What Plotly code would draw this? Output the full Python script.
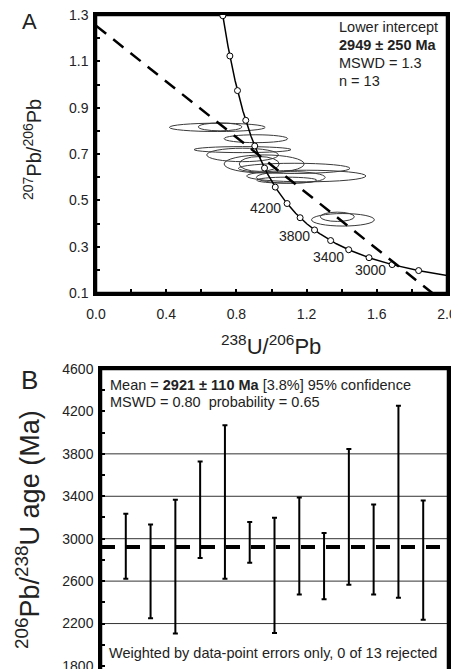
import numpy as np
import plotly.graph_objects as go

W, H = 459, 669
OFF = 8  # page body margin offset in the browser

# ---------------- data ----------------
# Concordia age marks (Ma)
conc_ages = [2800, 3000, 3200, 3400, 3600, 3800, 4000, 4200, 4400, 4600, 4800, 5000, 5200, 5400, 5600]
conc_labels = {4200: "4200", 3800: "3800", 3400: "3400", 3000: "3000"}
conc_age_range = [2600, 5600]
LAMBDA238 = 1.55125e-10 * 1e6
LAMBDA235 = 9.8485e-10 * 1e6
U_RATIO = 137.88

# Axis ticks
a_xticks = [0.0, 0.4, 0.8, 1.2, 1.6, 2.0]
a_xminor = [0.2, 0.6, 1.0, 1.4, 1.8]
a_yticks = [0.1, 0.3, 0.5, 0.7, 0.9, 1.1, 1.3]
b_yticks = [1800, 2200, 2600, 3000, 3400, 3800, 4200, 4600]

# Discordia: lower intercept age, 207/206 at x = 0
lower_intercept_age = 2949
discordia_y0 = 1.254
discordia_xmax = 1.92

# Error ellipses: centre x, centre y, half-width, half-height
ell_cx = [0.691, 0.707, 0.911, 0.835, 0.835, 0.958, 1.129, 0.930, 1.198, 1.110, 1.087, 1.407, 1.375]
ell_cy = [0.815, 0.817, 0.766, 0.719, 0.696, 0.657, 0.638, 0.657, 0.605, 0.599, 0.587, 0.416, 0.429]
ell_a = [0.273, 0.124, 0.181, 0.276, 0.204, 0.228, 0.318, 0.114, 0.340, 0.196, 0.171, 0.179, 0.097]
ell_b = [0.018, 0.017, 0.017, 0.013, 0.029, 0.039, 0.022, 0.032, 0.025, 0.025, 0.013, 0.027, 0.020]

# Panel B: 206Pb/238U ages, 95% error bars
spot = list(range(1, 14))
age_low = [2622, 2251, 2106, 2817, 2622, 2773, 2112, 2474, 2430, 2565, 2474, 2443, 2235]
age_high = [3235, 3135, 3367, 3729, 4069, 3157, 3197, 3389, 3053, 3845, 3323, 4254, 3361]
mean_age = 2921
grid_ages = [2200, 2600, 3000, 3400, 3800]


def conc_x(t):
    return 1.0 / (np.exp(LAMBDA238 * np.asarray(t, float)) - 1.0)


def conc_y(t):
    t = np.asarray(t, float)
    return (np.exp(LAMBDA235 * t) - 1.0) / (np.exp(LAMBDA238 * t) - 1.0) / U_RATIO


FONT = "Liberation Sans, Arial, sans-serif"
TXT = "#222222"

fig = go.Figure()

# concordia curve
tt = np.linspace(conc_age_range[0], conc_age_range[1], 400)
fig.add_trace(go.Scatter(x=conc_x(tt), y=conc_y(tt), mode="lines",
                         line=dict(color="black", width=1.5),
                         xaxis="x", yaxis="y", hoverinfo="skip", showlegend=False))
fig.add_trace(go.Scatter(x=conc_x(conc_ages), y=conc_y(conc_ages), mode="markers",
                         marker=dict(size=6, color="white", line=dict(color="black", width=1)),
                         xaxis="x", yaxis="y", showlegend=False))

# discordia
xi = conc_x(lower_intercept_age)
yi = conc_y(lower_intercept_age)
slope = (yi - discordia_y0) / xi
fig.add_trace(go.Scatter(x=[0, discordia_xmax], y=[discordia_y0, discordia_y0 + slope * discordia_xmax],
                         mode="lines", line=dict(color="black", width=2.5, dash="13px,9px"),
                         xaxis="x", yaxis="y", showlegend=False))

shapes = []
for cx, cy, a, b in zip(ell_cx, ell_cy, ell_a, ell_b):
    shapes.append(dict(type="circle", xref="x", yref="y", x0=cx - a, x1=cx + a, y0=cy - b, y1=cy + b,
                       line=dict(color="#3a3a3a", width=1), layer="below"))

# Panel B gridlines
for g in grid_ages:
    shapes.append(dict(type="line", xref="x2 domain", yref="y2", x0=0, x1=1, y0=g, y1=g,
                       line=dict(color="#333333", width=1), layer="below"))

# frames
for xr, yr in (("x domain", "y domain"), ("x2 domain", "y2 domain")):
    shapes.append(dict(type="rect", xref=xr, yref=yr, x0=0, x1=1, y0=0, y1=1,
                       line=dict(color="black", width=2.5), layer="below"))

# Panel B error bars
mid = [(lo + hi) / 2 for lo, hi in zip(age_low, age_high)]
fig.add_trace(go.Scatter(x=spot, y=mid, mode="markers", marker=dict(size=0.1, color="rgba(0,0,0,0)"),
                         error_y=dict(type="data", symmetric=False,
                                      array=[hi - m for hi, m in zip(age_high, mid)],
                                      arrayminus=[m - lo for lo, m in zip(age_low, mid)],
                                      color="black", thickness=2, width=2.5),
                         xaxis="x2", yaxis="y2", showlegend=False))
# mean line
fig.add_trace(go.Scatter(x=[0, 14], y=[mean_age, mean_age], mode="lines",
                         line=dict(color="black", width=4, dash="14px,11px"),
                         xaxis="x2", yaxis="y2", showlegend=False))


def px(x):
    return (x - OFF) / W


def py(y):
    return 1 - (y - OFF) / H


ann = []
ann.append(dict(text="A", x=px(29), y=py(22), font=dict(size=22)))
ann.append(dict(text="B", x=px(29), y=py(380), font=dict(size=26)))
ann.append(dict(text="<sup>238</sup>U/<sup>206</sup>Pb", x=px(271), y=py(345), font=dict(size=22)))
ann.append(dict(text="<sup>207</sup>Pb/<sup>206</sup>Pb", x=px(32), y=py(150), textangle=-90, font=dict(size=20)))
ann.append(dict(text="<sup>206</sup>Pb/<sup>238</sup>U age (Ma)", x=px(28), y=py(530), textangle=-90, font=dict(size=27)))

boxA = ["Lower intercept", "<b>2949 ± 250 Ma</b>", "MSWD = 1.3", "n = 13"]
for i, t in enumerate(boxA):
    ann.append(dict(text=t, x=px(337), y=py(27 + 18 * i), xanchor="left", font=dict(size=14.5)))

ann.append(dict(text="Mean = <b>2921 ± 110 Ma</b> [3.8%] 95% confidence", x=px(108), y=py(385),
                xanchor="left", font=dict(size=14.5)))
ann.append(dict(text="MSWD = 0.80\u00a0\u00a0probability = 0.65", x=px(108), y=py(402),
                xanchor="left", font=dict(size=14.5)))
ann.append(dict(text="Weighted by data-point errors only, 0 of 13 rejected", x=px(107), y=py(653),
                xanchor="left", font=dict(size=14.5)))

for a in ann:
    a.setdefault("xanchor", "center")
    a.update(xref="paper", yref="paper", yanchor="middle", showarrow=False)
    a["font"].update(family=FONT, color=TXT)

label_shift = {4200: (-4, -4), 3800: (-3, -6), 3400: (-3, -7), 3000: (-4, -5)}
for age, txt in conc_labels.items():
    dx, dy = label_shift[age]
    ann.append(dict(text=txt, x=float(conc_x(age)), y=float(conc_y(age)), xref="x", yref="y",
                    xanchor="right", yanchor="middle", xshift=dx, yshift=dy, showarrow=False,
                    font=dict(family=FONT, size=14, color=TXT)))

MINOR = dict(ticks="inside", ticklen=4, tickwidth=2, tickcolor="black")
axis_common = dict(showgrid=False, zeroline=False, showline=True, linecolor="black", linewidth=2.5,
                   mirror=True, ticks="inside", ticklen=4, tickwidth=2, tickcolor="black",
                   automargin=False, tickmode="array", ticklabeloverflow="allow",
                   tickfont=dict(family=FONT, size=14, color=TXT))

fig.update_layout(
    template="none",
    width=W, height=H, margin=dict(l=0, r=0, t=0, b=0, autoexpand=False),
    paper_bgcolor="white", plot_bgcolor="white",
    xaxis=dict(domain=[px(96), px(447)], range=[0, 2], anchor="y", tickvals=a_xticks,
               ticktext=[f"{v:.1f}" for v in a_xticks],
               minor=dict(tickvals=a_xminor, **MINOR), ticklabelstandoff=6,
               **axis_common),
    yaxis=dict(domain=[py(293), py(15)], range=[0.1, 1.3], anchor="x", tickvals=a_yticks,
               ticktext=[f"{v:.1f}" for v in a_yticks],
               minor=dict(dtick=0.1, tick0=0.0, **MINOR), ticklabelstandoff=2,
               **axis_common),
    xaxis2=dict(domain=[px(101), px(448)], range=[0, 14], anchor="y2", showticklabels=False,
                **{**axis_common, "ticks": ""}),
    yaxis2=dict(domain=[0, py(369)], range=[1696, 4600], anchor="x2", tickvals=b_yticks,
                ticktext=[str(v) for v in b_yticks],
                minor=dict(dtick=200, tick0=1800, **MINOR), ticklabelstandoff=2,
                **axis_common),
    shapes=shapes, annotations=ann,
)

fig.write_html("out.html")
